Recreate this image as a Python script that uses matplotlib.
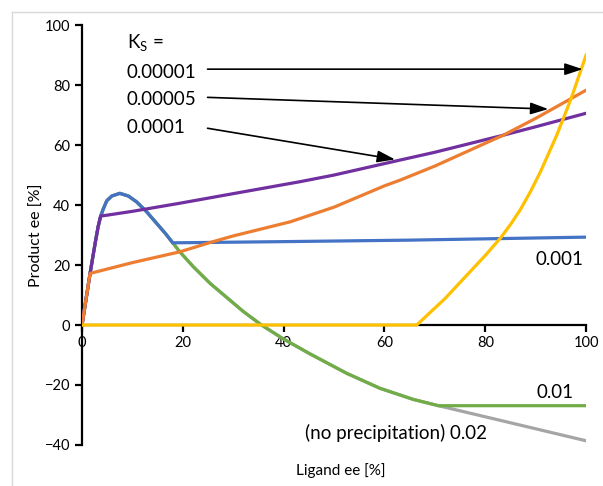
import matplotlib
matplotlib.use("Agg")
import matplotlib.pyplot as plt
from matplotlib.lines import Line2D

plt.rcParams['font.family'] = ['Lato', 'DejaVu Sans']

# no precipitation curve (Ks = 0.02)
grey_x = [0, 1.6, 2.6, 3.2, 3.7, 4.2, 4.9, 5.9, 7.5, 9.2, 10.8, 12.8, 14.8, 16.5, 18,
          19.4, 22.1, 25.4, 28.7, 32, 35.6, 39.9, 45.2, 52.5, 59.1, 65.7, 70.7, 80, 90, 100]
grey_y = [0, 17.2, 27.2, 32.8, 36.3, 38.6, 41.4, 43, 43.9, 43, 41.1, 37.8, 33.9, 30.6, 27.4,
          24.4, 19.4, 13.9, 9.2, 4.5, 0, -4.6, -9.6, -16.1, -21.1, -24.8, -26.9, -30.6, -34.6, -38.6]

# Ks = 0.01
green_x = [0, 1.6, 2.6, 3.2, 3.7, 4.2, 4.9, 5.9, 7.5, 9.2, 10.8, 12.8, 14.8, 16.5, 18,
           19.4, 22.1, 25.4, 28.7, 32, 35.6, 39.9, 45.2, 52.5, 59.1, 65.7, 70.7, 100]
green_y = [0, 17.2, 27.2, 32.8, 36.3, 38.6, 41.4, 43, 43.9, 43, 41.1, 37.8, 33.9, 30.6, 27.4,
           24.4, 19.4, 13.9, 9.2, 4.5, 0, -4.6, -9.6, -16.1, -21.1, -24.8, -26.9, -26.9]

# Ks = 0.001
blue_x = [0, 1.6, 2.6, 3.2, 3.7, 4.2, 4.9, 5.9, 7.5, 9.2, 10.8, 12.8, 14.8, 16.5, 18,
          40, 65, 100]
blue_y = [0, 17.2, 27.2, 32.8, 36.3, 38.6, 41.4, 43, 43.9, 43, 41.1, 37.8, 33.9, 30.6, 27.4,
          27.8, 28.3, 29.3]

# Ks = 0.0001
purple_x = [0, 1.6, 2.6, 3.2, 3.7, 10, 19.4, 30, 43.3, 50, 63.1, 70, 83.6, 90, 100]
purple_y = [0, 17.2, 27.2, 32.8, 36.3, 37.9, 40.6, 43.8, 47.8, 50.0, 55.0, 57.6, 63.3, 66.1, 70.6]

# Ks = 0.00005
orange_x = [0, 1.6, 10, 19.4, 26, 30, 41.3, 50, 60, 63.1, 70, 80, 83.6, 90, 100]
orange_y = [0, 17.2, 20.8, 24.4, 27.8, 29.7, 34.4, 39.3, 46.4, 48.3, 53.0, 60.6, 63.3, 68.9, 78.3]

# Ks = 0.00001
yellow_x = [0, 66.4, 72, 77, 80, 83, 85, 87, 89, 91, 94.2, 97, 100]
yellow_y = [0, 0, 8.8, 17.8, 23.2, 29, 33.5, 38.6, 44.6, 51.3, 63.4, 75.4, 90]

fig = plt.figure(figsize=(6.03, 4.86), dpi=100)
ax = fig.add_axes([0.136, 0.0844, 0.836, 0.864])

lw = 2.3
ax.plot(grey_x, grey_y, color='#A5A5A5', lw=lw, zorder=2)
ax.plot(green_x, green_y, color='#70AD47', lw=lw, zorder=3)
ax.plot(blue_x, blue_y, color='#4472C4', lw=lw, zorder=4)
ax.plot(purple_x, purple_y, color='#7030A0', lw=lw, zorder=5)
ax.plot(orange_x, orange_y, color='#ED7D31', lw=lw, zorder=6)
ax.plot(yellow_x, yellow_y, color='#FFC000', lw=lw, zorder=7)

ax.set_xlim(0, 100)
ax.set_ylim(-40, 100)
ax.set_xticks([0, 20, 40, 60, 80, 100])
ax.set_yticks([-40, -20, 0, 20, 40, 60, 80, 100])
ax.spines['top'].set_visible(False)
ax.spines['right'].set_visible(False)
ax.spines['bottom'].set_position(('data', 0))
ax.spines['left'].set_linewidth(1.6)
ax.spines['bottom'].set_linewidth(1.6)
ax.tick_params(axis='both', direction='out', length=5, width=1.6, labelsize=10.5)
ax.tick_params(axis='x', pad=3)

ax.text(-0.09, 0.5, 'Product ee [%]', rotation=90, transform=ax.transAxes,
        ha='center', va='center', fontsize=11.5)
ax.text(0.513, -0.06, 'Ligand ee [%]', transform=ax.transAxes,
        ha='center', va='center', fontsize=11)

fs = 13.5
ax.text(8.9, 94, 'K$_\\mathregular{S}$ =', fontsize=fs, va='center')
ax.text(8.9, 84.3, '0.00001', fontsize=fs, va='center')
ax.text(8.9, 75.2, '0.00005', fontsize=fs, va='center')
ax.text(8.9, 65.8, '0.0001', fontsize=fs, va='center')
ax.text(99.4, 22, '0.001', fontsize=fs, va='center', ha='right')
ax.text(97.5, -22.6, '0.01', fontsize=fs, va='center', ha='right')
ax.text(80.3, -36, '(no precipitation) 0.02', fontsize=fs, va='center', ha='right')

arrow = dict(arrowstyle='-|>,head_length=0.6,head_width=0.2', mutation_scale=18,
             color='black', lw=1.2, shrinkA=0, shrinkB=0)
ax.annotate('', xy=(99.3, 85.3), xytext=(24.9, 85.3), arrowprops=arrow, zorder=8)
ax.annotate('', xy=(92.5, 72), xytext=(24.9, 75.9), arrowprops=arrow, zorder=8)
ax.annotate('', xy=(62.1, 55.2), xytext=(24.9, 65.6), arrowprops=arrow, zorder=8)

# light frame around the chart area
fig.add_artist(Line2D([0.02, 1.0], [0.975, 0.975], transform=fig.transFigure,
                      color='#D9D9D9', lw=1))
fig.add_artist(Line2D([0.02, 0.02], [0.975, 0.0], transform=fig.transFigure,
                      color='#D9D9D9', lw=1))

fig.savefig('out.png', dpi=100)
